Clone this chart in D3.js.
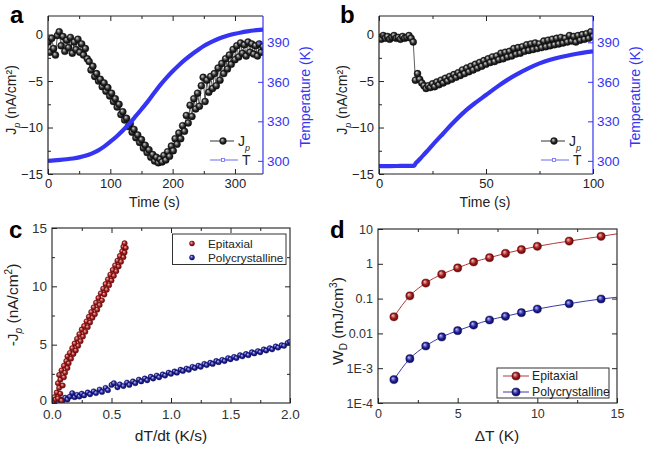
<!DOCTYPE html>
<html>
<head>
<meta charset="utf-8">
<script src="https://cdn.jsdelivr.net/npm/d3@7/dist/d3.min.js"></script>
<style>
  body { margin: 0; background: #fff; }
  svg { font-family: "Liberation Sans", Arial, sans-serif; }
</style>
</head>
<body>
<div id="chart"></div>
<script>
// panel a: pyroelectric current and temperature vs time
const timeA = [0,3,6,9,12,15,18,21,24,27,30,33,36,39,42,45,48,51,54,57,60,63,66,69,72,75,78,81,84,87,90,93,96,99,102,105,108,111,114,117,120,123,126,129,132,135,138,141,144,147,150,153,156,159,162,165,168,171,174,177,180,183,186,189,192,195,198,201,204,207,210,213,216,219,222,225,228,231,234,237,240,243,246,249,252,255,258,261,264,267,270,273,276,279,282,285,288,291,294,297,300,303,306,309,312,315,318,321,324,327,330,333,336,339,342,345];
const jpA = [-0.8,-1.9,-0.4,-1.5,-2.2,-0.1,0.3,-1.2,-0.2,-1.8,-0.6,-1.4,-0.3,-2.0,-0.8,-1.6,-0.5,-1.9,-1.0,-2.2,-1.5,-2.6,-2.9,-3.8,-3.4,-4.5,-4.2,-5.0,-4.8,-5.6,-5.2,-6.1,-5.7,-6.6,-6.3,-7.2,-6.9,-7.8,-7.5,-8.6,-8.3,-9.2,-9.0,-9.9,-9.6,-10.5,-10.2,-11.1,-10.8,-11.6,-11.3,-12.2,-11.9,-12.7,-12.4,-13.2,-12.9,-13.6,-13.2,-13.8,-13.4,-13.7,-13.0,-13.5,-12.6,-13.1,-12.0,-12.5,-11.2,-11.8,-10.6,-11.2,-9.8,-10.4,-8.7,-9.5,-7.6,-8.8,-6.9,-8.0,-6.3,-7.7,-5.5,-4.6,-7.2,-4.9,-6.2,-4.5,-5.8,-4.2,-5.5,-3.6,-4.9,-3.1,-4.2,-2.6,-3.7,-2.2,-3.2,-1.6,-2.7,-1.2,-2.4,-0.9,-2.0,-1.1,-2.3,-0.8,-1.9,-1.0,-2.1,-1.2,-2.3,-1.0,-1.9,-1.3];
const tTimeA = [0,10,20,30,40,50,60,70,80,90,100,110,120,130,140,150,160,170,180,190,200,210,220,230,240,250,260,270,280,290,300,310,320,330,340,345];
const tempA = [300.0,300.3,300.7,301.2,301.8,302.6,303.8,305.5,307.8,310.8,314.5,318.5,323,328,333.5,339.2,345,351.3,357.5,363,368,372.6,376.8,380.6,384,387.2,389.8,392,393.8,395.3,396.5,397.5,398.3,399,399.5,399.7];

// panel b
const timeB = [0,1,2,3,4,5,6,7,8,9,10,11,12,13,14,15,16,17,18,19,20,21,22,23,24,25,26,27,28,29,30,31,32,33,34,35,36,37,38,39,40,41,42,43,44,45,46,47,48,49,50,51,52,53,54,55,56,57,58,59,60,61,62,63,64,65,66,67,68,69,70,71,72,73,74,75,76,77,78,79,80,81,82,83,84,85,86,87,88,89,90,91,92,93,94,95,96,97,98,99,100];
const jpB = [-0.3,-0.5,-0.1,-0.4,-0.2,-0.5,-0.3,-0.1,-0.4,-0.3,-0.5,-0.2,-0.4,-0.3,-0.1,-0.4,-0.8,-4.9,-4.2,-4.8,-5.2,-5.5,-5.8,-5.5,-5.7,-5.3,-5.6,-5.1,-5.4,-4.9,-5.2,-4.7,-5.0,-4.5,-4.8,-4.3,-4.6,-4.1,-4.4,-3.8,-4.2,-3.6,-4.0,-3.4,-3.8,-3.2,-3.6,-3.0,-3.4,-2.8,-3.2,-2.6,-3.0,-2.4,-2.9,-2.3,-2.7,-2.0,-2.6,-1.9,-2.4,-1.8,-2.3,-1.5,-2.1,-1.4,-2.0,-1.3,-1.8,-1.1,-1.7,-1.0,-1.6,-0.9,-1.5,-1.0,-1.4,-0.7,-1.3,-0.6,-1.2,-0.5,-1.1,-0.4,-1.0,-0.3,-0.9,-0.4,-0.8,-0.1,-0.7,-0.2,-0.8,-0.1,-0.6,0.0,-0.5,0.1,-0.4,0.3,-0.2];
const tTimeB = [0,5,10,15,16.5,17,18,20,22,25,30,35,40,45,50,55,60,65,70,75,80,85,90,95,100];
const tempB = [296,296,296.1,296.2,296.4,297.8,299.5,303,306.5,312,320.8,329.5,337.4,344,350,356,361.5,366.2,370.4,374,376.8,378.9,380.6,382,383.1];

// panel c: -Jp vs dT/dt
const epiRate = [0.01,0.02,0.03,0.04,0.05,0.06,0.05,0.07,0.08,0.07,0.09,0.06,0.1,0.08,0.11,0.1,0.13,0.12,0.14,0.13,0.16,0.15,0.18,0.17,0.2,0.19,0.22,0.21,0.24,0.23,0.26,0.25,0.28,0.27,0.3,0.29,0.32,0.31,0.34,0.33,0.36,0.35,0.38,0.37,0.4,0.39,0.42,0.41,0.44,0.43,0.46,0.45,0.48,0.47,0.5,0.49,0.52,0.51,0.54,0.53,0.56,0.55,0.58,0.57,0.6,0.59,0.61,0.6,0.62,0.61];
const epiJp = [0.1,0.5,0.3,0.9,0.4,1.3,1.7,0.8,0.2,2.0,1.5,2.4,2.2,2.8,2.6,3.2,3.0,3.6,3.4,4.0,3.8,4.3,4.2,4.7,4.5,5.1,4.9,5.5,5.3,5.9,5.7,6.3,6.1,6.6,6.5,7.0,6.9,7.4,7.3,7.8,7.6,8.2,8.0,8.6,8.4,9.0,8.8,9.4,9.3,9.8,9.7,10.2,10.1,10.6,10.5,11.0,10.9,11.4,11.3,11.8,11.7,12.2,12.1,12.6,12.5,13.0,12.9,13.4,13.3,13.7];
const polyRate = [0.01,0.03,0.05,0.07,0.09,0.11,0.13,0.15,0.17,0.19,0.21,0.23,0.25,0.27,0.3,0.32,0.35,0.37,0.4,0.42,0.45,0.47,0.5,0.52,0.55,0.57,0.6,0.63,0.65,0.68,0.7,0.73,0.75,0.78,0.8,0.83,0.85,0.88,0.9,0.93,0.95,0.98,1.0,1.03,1.05,1.08,1.1,1.13,1.15,1.18,1.2,1.23,1.25,1.28,1.3,1.33,1.35,1.38,1.4,1.43,1.45,1.48,1.5,1.53,1.55,1.58,1.6,1.63,1.65,1.68,1.7,1.73,1.75,1.78,1.8,1.83,1.85,1.88,1.9,1.93,1.95,1.98,2.0];
const polyJp = [0.05,0.15,0.1,0.3,0.2,0.45,0.3,0.55,0.85,0.5,0.7,0.55,0.8,0.65,0.9,0.75,1.0,0.85,1.15,0.95,1.3,1.1,1.55,1.7,1.35,1.6,1.45,1.75,1.55,1.85,1.7,2.0,1.85,2.1,1.95,2.25,2.1,2.35,2.2,2.45,2.35,2.6,2.5,2.7,2.6,2.85,2.75,2.95,2.85,3.1,3.0,3.2,3.1,3.35,3.25,3.45,3.35,3.6,3.5,3.7,3.6,3.85,3.75,3.95,3.85,4.1,4.0,4.2,4.1,4.35,4.25,4.45,4.35,4.6,4.5,4.7,4.6,4.85,4.75,4.95,4.9,5.15,5.25];

// panel d: energy density vs temperature span
const deltaT = [1,2,3,4,5,6,7,8,9,10,12,14,16];
const wdEpi = [0.03,0.12,0.28,0.5,0.76,1.13,1.5,2.0,2.55,3.18,4.5,6.15,8.6];
const wdPoly = [0.00047,0.00188,0.00435,0.0079,0.012,0.0174,0.0243,0.031,0.0394,0.05,0.0715,0.0975,0.12];

const blue = "#3434f2";

const svg = d3.select("#chart").append("svg")
  .attr("width", 649)
  .attr("height", 465);

const defs = svg.append("defs");

function ball(id, hi, mid, lo) {
  const gr = defs.append("radialGradient")
    .attr("id", id)
    .attr("cx", "50%").attr("cy", "50%").attr("r", "55%")
    .attr("fx", "35%").attr("fy", "32%");
  gr.append("stop").attr("offset", "0%").attr("stop-color", hi);
  gr.append("stop").attr("offset", "55%").attr("stop-color", mid);
  gr.append("stop").attr("offset", "100%").attr("stop-color", lo);
}
ball("ballK", "#d8d8d8", "#2c2c2c", "#000");
ball("ballR", "#f4c4c4", "#a41c1c", "#580000");
ball("ballB", "#c4c4f4", "#23239c", "#000048");

function clip(id, p) {
  defs.append("clipPath").attr("id", id)
    .append("rect")
    .attr("x", p.x0).attr("y", p.y0)
    .attr("width", p.x1 - p.x0).attr("height", p.y1 - p.y0);
}

// inward ticks, optional labels
function ticks(scale, orient, pos, values, size, opts = {}) {
  const make = { bottom: d3.axisBottom, top: d3.axisTop, left: d3.axisLeft, right: d3.axisRight }[orient];
  const ax = make(scale)
    .tickValues(values)
    .tickSize(-size)
    .tickPadding(opts.pad || 0)
    .tickFormat(opts.fmt || "");
  const horiz = orient === "bottom" || orient === "top";
  const g = svg.append("g")
    .attr("transform", horiz ? `translate(0,${pos})` : `translate(${pos},0)`)
    .call(ax);
  g.select(".domain").remove();
  g.selectAll("line").attr("stroke", opts.color || "#222");
  g.selectAll("text")
    .attr("fill", opts.textColor || opts.color || "#222")
    .attr("font-size", opts.fs || 13)
    .attr("font-family", null);
  return g;
}

function spine(x1, y1, x2, y2, color) {
  svg.append("line")
    .attr("x1", x1).attr("y1", y1).attr("x2", x2).attr("y2", y2)
    .attr("stroke", color).attr("stroke-width", 1.2);
}

function letter(txt, x, y) {
  svg.append("text").attr("x", x).attr("y", y)
    .attr("font-size", 24).attr("font-weight", "bold")
    .attr("fill", "#000").text(txt);
}

// rotated title with sub/superscript pieces: [text, shift]
function vTitle(parts, x, y, fs, color) {
  const t = svg.append("text")
    .attr("transform", `translate(${x},${y}) rotate(-90)`)
    .attr("text-anchor", "middle")
    .attr("font-size", fs)
    .attr("fill", color);
  let cur = 0;
  parts.forEach(([s, shift, small, italic]) => {
    t.append("tspan")
      .attr("dy", shift - cur)
      .attr("font-size", small ? fs * 0.65 : fs)
      .attr("font-style", italic ? "italic" : null)
      .text(s);
    cur = shift;
  });
  return t;
}

function hTitle(txt, x, y, fs) {
  svg.append("text").attr("x", x).attr("y", y)
    .attr("text-anchor", "middle").attr("font-size", fs)
    .attr("fill", "#222").text(txt);
}

// ---------- panels a and b ----------
function timePanel(p, times, jp, tTimes, temps, xMax, xMajor, xMinor, legendX, letterX, name) {
  const x = d3.scaleLinear().domain([0, xMax]).range([p.x0, p.x1]);
  const y = d3.scaleLinear().domain([-15, 2]).range([p.y1, p.y0]);
  const yT = d3.scaleLinear().domain([290, 410]).range([p.y1, p.y0]);
  clip("clip" + name, p);

  const g = svg.append("g").attr("clip-path", `url(#clip${name})`);
  const pts = times.map((t, i) => [t, jp[i]]);
  g.append("path")
    .attr("d", d3.line().x(d => x(d[0])).y(d => y(d[1]))(pts))
    .attr("fill", "none").attr("stroke", "#333").attr("stroke-width", 0.8);
  g.selectAll("circle.jp").data(pts).join("circle")
    .attr("class", "jp")
    .attr("cx", d => x(d[0])).attr("cy", d => y(d[1]))
    .attr("r", 3.5)
    .attr("fill", "url(#ballK)")
    .attr("stroke", "#111").attr("stroke-width", 0.4);
  const tPts = tTimes.map((t, i) => [t, temps[i]]);
  g.append("path")
    .attr("d", d3.line().curve(d3.curveMonotoneX).x(d => x(d[0])).y(d => yT(d[1]))(tPts))
    .attr("fill", "none").attr("stroke", blue).attr("stroke-width", 4.2);

  spine(p.x0, p.y0, p.x0, p.y1, "#222");
  spine(p.x0, p.y1, p.x1, p.y1, "#222");
  spine(p.x0, p.y0, p.x1, p.y0, "#222");
  spine(p.x1, p.y0, p.x1, p.y1, blue);

  ticks(x, "bottom", p.y1, xMajor, 5, { pad: 5, fmt: d3.format("d") });
  ticks(x, "bottom", p.y1, xMinor, 3);
  ticks(x, "top", p.y0, xMajor, 5);
  ticks(x, "top", p.y0, xMinor, 3);
  ticks(y, "left", p.x0, [0, -5, -10, -15], 5, { pad: 5, fmt: d3.format("d") });
  ticks(y, "left", p.x0, [-2.5, -7.5, -12.5], 3);
  ticks(yT, "right", p.x1, [300, 330, 360, 390], 5, { pad: 4, fmt: d3.format("d"), color: blue, fs: 13.5 });

  vTitle([["J", 0], ["p", 4, true, true], [" (nA/cm\u00b2)", 0]], p.x0 - 32, 100, 14, "#222");
  vTitle([["Temperature (K)", 0]], p.x1 + 47, 97, 14, blue);
  hTitle("Time (s)", (p.x0 + p.x1) / 2 - 1, 207, 14);
  letter(name, letterX, 23);

  // legend
  const lx = legendX;
  svg.append("line").attr("x1", lx).attr("x2", lx + 24).attr("y1", 141).attr("y2", 141)
    .attr("stroke", "#333").attr("stroke-width", 1);
  svg.append("circle").attr("cx", lx + 13).attr("cy", 141).attr("r", 3.4)
    .attr("fill", "url(#ballK)").attr("stroke", "#111").attr("stroke-width", 0.4);
  const jt = svg.append("text").attr("x", lx + 28).attr("y", 146).attr("font-size", 14).attr("fill", "#222");
  jt.append("tspan").text("J");
  jt.append("tspan").attr("dy", 5).attr("font-size", 9).attr("font-style", "italic").text("p");
  svg.append("line").attr("x1", lx).attr("x2", lx + 28).attr("y1", 160).attr("y2", 160)
    .attr("stroke", "#6a6af6").attr("stroke-width", 1);
  svg.append("rect").attr("x", lx + 11.5).attr("y", 158.5).attr("width", 3).attr("height", 3)
    .attr("fill", "#fff").attr("stroke", "#6a6af6").attr("stroke-width", 0.8);
  svg.append("text").attr("x", lx + 32).attr("y", 165).attr("font-size", 14).attr("fill", "#222").text("T");
}

timePanel({ x0: 48, x1: 263, y0: 16, y1: 174 }, timeA, jpA, tTimeA, tempA, 345,
  [0, 100, 200, 300], [50, 150, 250], 210, 10, "a");
timePanel({ x0: 379, x1: 593, y0: 16, y1: 174 }, timeB, jpB, tTimeB, tempB, 100,
  [0, 50, 100], [25, 75], 541, 340, "b");

// ---------- panel c ----------
(function () {
  const p = { x0: 52, x1: 290, y0: 228, y1: 403 };
  const x = d3.scaleLinear().domain([0, 2]).range([p.x0, p.x1]);
  const y = d3.scaleLinear().domain([0, 15]).range([p.y1, p.y0]);
  clip("clipc", p);
  const g = svg.append("g").attr("clip-path", "url(#clipc)");
  const poly = polyRate.map((r, i) => [r, polyJp[i]]);
  const epi = epiRate.map((r, i) => [r, epiJp[i]]);
  g.selectAll("circle.poly").data(poly).join("circle")
    .attr("class", "poly")
    .attr("cx", d => x(d[0])).attr("cy", d => y(d[1])).attr("r", 2.7)
    .attr("fill", "url(#ballB)").attr("stroke", "#10106a").attr("stroke-width", 0.4);
  g.selectAll("circle.epi").data(epi).join("circle")
    .attr("class", "epi")
    .attr("cx", d => x(d[0])).attr("cy", d => y(d[1])).attr("r", 2.7)
    .attr("fill", "url(#ballR)").attr("stroke", "#6a0c0c").attr("stroke-width", 0.4);

  svg.append("rect").attr("x", p.x0).attr("y", p.y0)
    .attr("width", p.x1 - p.x0).attr("height", p.y1 - p.y0)
    .attr("fill", "none").attr("stroke", "#333").attr("stroke-width", 1.2);
  const tc = "#333";
  ticks(x, "bottom", p.y1, [0, 0.5, 1, 1.5, 2], 5, { pad: 6, fmt: d3.format(".1f"), textColor: tc, fs: 13.5 });
  ticks(x, "bottom", p.y1, [0.25, 0.75, 1.25, 1.75], 3);
  ticks(x, "top", p.y0, [0.5, 1, 1.5], 5);
  ticks(x, "top", p.y0, [0.25, 0.75, 1.25, 1.75], 3);
  const yl = ticks(y, "left", p.x0, [0, 5, 10, 15], 5, { pad: 5, fmt: d3.format("d"), textColor: tc, fs: 13.5 });
  // lift the "0" a little so it clears the "0.0" below it
  yl.selectAll("text").filter(d => d === 0).attr("dy", "0.12em");
  ticks(y, "left", p.x0, [2.5, 7.5, 12.5], 3);
  ticks(y, "right", p.x1, [5, 10], 5);
  ticks(y, "right", p.x1, [2.5, 7.5, 12.5], 3);

  vTitle([["-J", 0], ["p", 4, true, true], [" (nA/cm", 0], ["2", -6, true], [")", 0]], 18, 305, 15.5, "#222");
  hTitle("dT/dt (K/s)", 171, 441, 15.5);
  letter("c", 9, 238);

  // legend
  svg.append("rect").attr("x", 172.5).attr("y", 234).attr("width", 113.5).attr("height", 30.5)
    .attr("fill", "#fff").attr("stroke", "#333").attr("stroke-width", 1);
  [["Epitaxial", "url(#ballR)", 243.5], ["Polycrystalline", "url(#ballB)", 257.5]].forEach(([lab, f, ly]) => {
    svg.append("circle").attr("cx", 192).attr("cy", ly).attr("r", 2.7).attr("fill", f);
    svg.append("text").attr("x", 208).attr("y", ly + 4.2).attr("font-size", 11.8).attr("fill", "#222").text(lab);
  });
})();

// ---------- panel d ----------
(function () {
  const p = { x0: 378, x1: 617, y0: 229, y1: 403 };
  const x = d3.scaleLinear().domain([0, 15]).range([p.x0, p.x1]);
  const y = d3.scaleLog().domain([1e-4, 10]).range([p.y1, p.y0]);
  clip("clipd", p);
  const g = svg.append("g").attr("clip-path", "url(#clipd)");
  const series = [
    [wdEpi, "#b23a3a", "url(#ballR)", "#5a0a0a"],
    [wdPoly, "#3a3aa8", "url(#ballB)", "#0a0a50"]
  ];
  series.forEach(([vals, lc, f, sc]) => {
    const pts = deltaT.map((t, i) => [t, vals[i]]);
    g.append("path")
      .attr("d", d3.line().curve(d3.curveMonotoneX).x(d => x(d[0])).y(d => y(d[1]))(pts))
      .attr("fill", "none").attr("stroke", lc).attr("stroke-width", 1);
    g.selectAll(null).data(pts).join("circle")
      .attr("cx", d => x(d[0])).attr("cy", d => y(d[1])).attr("r", 4.1)
      .attr("fill", f).attr("stroke", sc).attr("stroke-width", 0.4);
  });

  svg.append("rect").attr("x", p.x0).attr("y", p.y0)
    .attr("width", p.x1 - p.x0).attr("height", p.y1 - p.y0)
    .attr("fill", "none").attr("stroke", "#333").attr("stroke-width", 1.2);
  const tc = "#333";
  const logLabels = { 1e-4: "1E-4", 1e-3: "1E-3", 0.01: "0.01", 0.1: "0.1", 1: "1", 10: "10" };
  ticks(x, "bottom", p.y1, [0, 5, 10, 15], 5, { pad: 6, fmt: d3.format("d"), textColor: tc, fs: 12.5 });
  ticks(x, "bottom", p.y1, [2.5, 7.5, 12.5], 3);
  ticks(x, "top", p.y0, [5, 10], 5);
  ticks(x, "top", p.y0, [2.5, 7.5, 12.5], 3);
  ticks(y, "left", p.x0, [1e-4, 1e-3, 0.01, 0.1, 1, 10], 5, { pad: 5, fmt: v => logLabels[v], textColor: tc, fs: 12.5 });
  ticks(y, "right", p.x1, [1e-3, 0.01, 0.1, 1], 5);

  vTitle([["W", 0], ["D", 4, true], [" (mJ/cm", 0], ["3", -6, true], [")", 0]], 343, 321, 15.5, "#222");
  hTitle("\u0394T (K)", 497, 441, 15.5);
  letter("d", 330, 238);

  // legend
  svg.append("rect").attr("x", 497).attr("y", 368).attr("width", 112).attr("height", 30)
    .attr("fill", "#fff").attr("stroke", "#333").attr("stroke-width", 1);
  [["Epitaxial", series[0], 376], ["Polycrystalline", series[1], 392]].forEach(([lab, s, ly]) => {
    svg.append("line").attr("x1", 503).attr("x2", 529).attr("y1", ly).attr("y2", ly)
      .attr("stroke", s[1]).attr("stroke-width", 1);
    svg.append("circle").attr("cx", 516).attr("cy", ly).attr("r", 4.1)
      .attr("fill", s[2]).attr("stroke", s[3]).attr("stroke-width", 0.4);
    svg.append("text").attr("x", 532).attr("y", ly + 4.3).attr("font-size", 12.2).attr("fill", "#222").text(lab);
  });
})();
</script>
</body>
</html>
